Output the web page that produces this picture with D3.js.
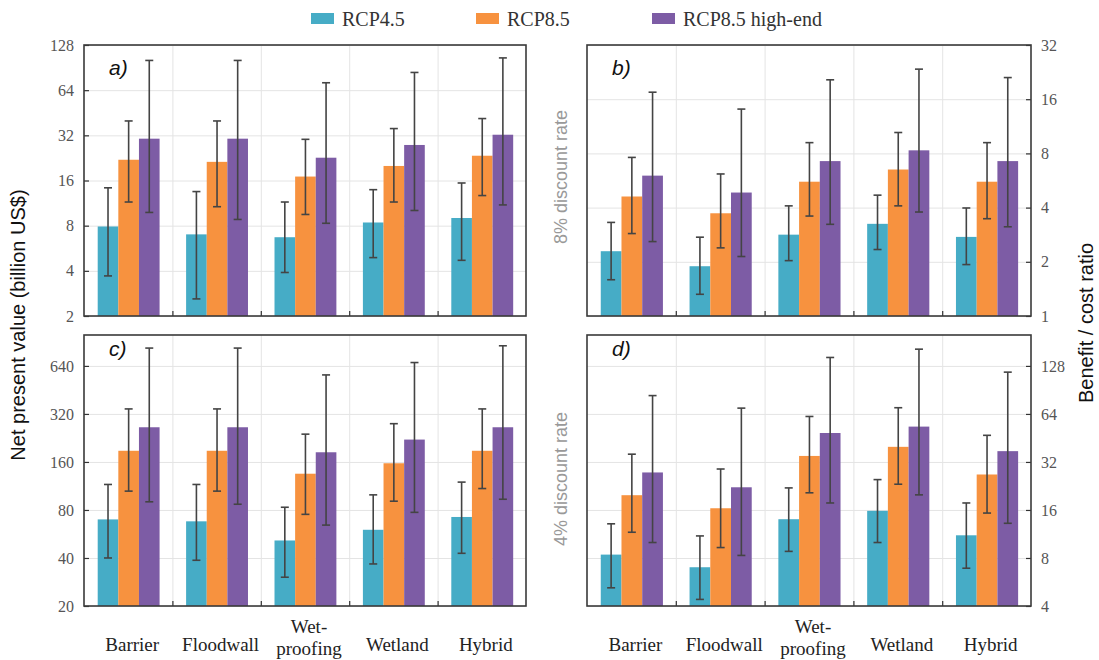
<!DOCTYPE html>
<html>
<head>
<meta charset="utf-8">
<script src="https://cdn.jsdelivr.net/npm/d3@7"></script>
<style>
body { margin: 0; background: #fff; }
svg { display: block; }
.tick text { font-family: "Liberation Serif", "Times New Roman", serif; font-size: 16px; fill: #555; }
.grid line { stroke: #e4e4e4; stroke-width: 1; }
.axis-label { font-family: "Liberation Sans", Arial, sans-serif; }
.serif { font-family: "Liberation Serif", "Times New Roman", serif; }
</style>
</head>
<body>
<svg width="1099" height="660"></svg>
<script>
const categories = ['Barrier', 'Floodwall', 'Wet-proofing', 'Wetland', 'Hybrid'];
const scenarios = ['RCP4.5', 'RCP8.5', 'RCP8.5 high-end'];
const colors = ['#46acc6', '#f7923f', '#7d5ca5'];

// a) net present value, 8% discount rate  (rows = scenarios)
const npv8Val = [[7.9, 7.0, 6.7, 8.4, 9.0], [22.0, 21.3, 17.0, 20.0, 23.4], [30.4, 30.4, 22.7, 27.6, 32.3]];
const npv8Lo  = [[3.7, 2.6, 3.9, 4.9, 4.7], [11.5, 10.7, 9.5, 11.5, 12.7], [9.8, 8.8, 8.3, 10.1, 11.0]];
const npv8Hi  = [[14.3, 13.5, 11.5, 13.9, 15.4], [39.9, 39.9, 30.1, 35.5, 41.4], [101, 101, 71.7, 84.0, 105]];

// b) benefit / cost ratio, 8% discount rate
const bcr8Val = [[2.29, 1.89, 2.83, 3.25, 2.75], [4.61, 3.72, 5.57, 6.51, 5.57], [6.02, 4.85, 7.25, 8.32, 7.25]];
const bcr8Lo  = [[1.59, 1.32, 2.03, 2.34, 1.93], [2.87, 2.39, 3.59, 4.09, 3.47], [2.59, 2.14, 3.23, 3.78, 3.13]];
const bcr8Hi  = [[3.31, 2.74, 4.09, 4.69, 3.98], [7.6, 6.15, 9.18, 10.45, 9.18], [17.5, 14.1, 20.5, 23.5, 21.1]];

// c) net present value, 4% discount rate
const npv4Val = [[69.8, 67.9, 51.5, 60.1, 72.3], [188, 188, 135, 157, 188], [264, 264, 184, 221, 264]];
const npv4Lo  = [[40, 38.7, 30.3, 36.7, 42.8], [105, 105, 75.1, 90.8, 109], [90, 86.9, 64.3, 77.3, 93.4]];
const npv4Hi  = [[115.6, 115.6, 83.2, 99.5, 119.6], [344, 344, 239, 278, 344], [828, 828, 562, 672, 856]];

// d) benefit / cost ratio, 4% discount rate
const bcr4Val = [[8.4, 7.0, 14.0, 15.8, 11.1], [19.8, 16.4, 34.9, 39.8, 26.7], [27.5, 22.2, 48.6, 53.3, 37.4]];
const bcr4Lo  = [[5.2, 4.4, 8.8, 10.0, 6.9], [11.6, 9.3, 20.5, 23.2, 15.3], [10.0, 8.3, 17.7, 19.9, 13.2]];
const bcr4Hi  = [[13.1, 11.0, 22.0, 24.8, 17.7], [35.8, 28.9, 61.7, 70.0, 47.0], [83.4, 69.6, 144.6, 163, 117]];

const ticksA = [2, 4, 8, 16, 32, 64, 128];
const ticksB = [1, 2, 4, 8, 16, 32];
const ticksC = [20, 40, 80, 160, 320, 640];
const ticksD = [4, 8, 16, 32, 64, 128];

const svg = d3.select('svg');

const panels = [
    { name: 'a)', val: npv8Val, lo: npv8Lo, hi: npv8Hi, domain: [2, 128], ticks: ticksA, side: 'left',
      x0: 84, x1: 526, y0: 45, y1: 316, labY: 75, cats: false },
    { name: 'b)', val: bcr8Val, lo: bcr8Lo, hi: bcr8Hi, domain: [1, 32], ticks: ticksB, side: 'right',
      x0: 587, x1: 1031, y0: 45, y1: 316, labY: 75, cats: false },
    { name: 'c)', val: npv4Val, lo: npv4Lo, hi: npv4Hi, domain: [20, 1000], ticks: ticksC, side: 'left',
      x0: 84, x1: 526, y0: 335, y1: 606, labY: 356, cats: true },
    { name: 'd)', val: bcr4Val, lo: bcr4Lo, hi: bcr4Hi, domain: [4, 200], ticks: ticksD, side: 'right',
      x0: 587, x1: 1031, y0: 335, y1: 606, labY: 356, cats: true }
];

const drawPanel = p => {
    const w = p.x1 - p.x0;
    const h = p.y1 - p.y0;
    const g = svg.append('g').attr('transform', `translate(${p.x0},${p.y0})`);

    const yScale = d3.scaleLog().base(2).domain(p.domain).range([h, 0]);
    const xScale = d3.scaleBand().domain(categories).range([0, w]);
    const gw = xScale.bandwidth();
    const xInner = d3.scaleBand().domain(d3.range(scenarios.length))
        .range([gw * 0.155, gw * 0.855]);

    // grid
    g.append('g').attr('class', 'grid')
        .call(d3.axisLeft(yScale).tickValues(p.ticks).tickSize(-w).tickFormat(''))
        .call(s => s.select('.domain').remove());
    const xLin = d3.scaleLinear().domain([0, categories.length]).range([0, w]);
    g.append('g').attr('class', 'grid')
        .call(d3.axisBottom(xLin).tickValues([1, 2, 3, 4]).tickSize(h).tickFormat(''))
        .call(s => s.select('.domain').remove());

    // bars
    p.val.forEach((series, si) => {
        g.selectAll(null).data(series).enter().append('rect')
            .attr('x', (d, i) => xScale(categories[i]) + xInner(si))
            .attr('width', xInner.bandwidth())
            .attr('y', d => yScale(d))
            .attr('height', d => h - yScale(d))
            .attr('fill', colors[si]);
    });

    // error bars
    p.val.forEach((series, si) => {
        const cx = i => xScale(categories[i]) + xInner(si) + xInner.bandwidth() / 2;
        const eg = g.append('g').attr('stroke', '#444').attr('stroke-width', 1.6);
        eg.selectAll(null).data(series).enter().append('line')
            .attr('x1', (d, i) => cx(i)).attr('x2', (d, i) => cx(i))
            .attr('y1', (d, i) => yScale(p.lo[si][i]))
            .attr('y2', (d, i) => yScale(p.hi[si][i]));
        [p.lo[si], p.hi[si]].forEach(arr => {
            eg.selectAll(null).data(arr).enter().append('line')
                .attr('x1', (d, i) => cx(i) - 4).attr('x2', (d, i) => cx(i) + 4)
                .attr('y1', d => yScale(d)).attr('y2', d => yScale(d));
        });
    });

    // y axis with inward ticks
    const yAxis = (p.side === 'left' ? d3.axisLeft(yScale) : d3.axisRight(yScale))
        .tickValues(p.ticks).tickFormat(d3.format('d'))
        .tickSizeInner(-5).tickSizeOuter(0).tickPadding(10);
    const yAxisG = g.append('g')
        .attr('transform', p.side === 'left' ? null : `translate(${w},0)`)
        .call(yAxis);
    yAxisG.select('.domain').remove();
    yAxisG.selectAll('.tick line').attr('stroke', '#333').attr('stroke-width', 1.2);

    // bottom ticks at group boundaries
    const bAxisG = g.append('g').attr('transform', `translate(0,${h})`)
        .call(d3.axisBottom(xLin).tickValues([1, 2, 3, 4]).tickSize(-5).tickFormat(''));
    bAxisG.select('.domain').remove();
    bAxisG.selectAll('.tick line').attr('stroke', '#333').attr('stroke-width', 1.2);

    // frame
    g.append('rect').attr('width', w).attr('height', h)
        .attr('fill', 'none').attr('stroke', '#3a3a3a').attr('stroke-width', 1.6);

    // panel label
    svg.append('text').attr('class', 'axis-label')
        .attr('x', p.x0 + 25).attr('y', p.labY)
        .attr('font-size', 21).attr('font-style', 'italic').attr('fill', '#111')
        .text(p.name);

    // category labels
    if (p.cats) {
        categories.forEach(c => {
            const t = svg.append('text').attr('class', 'serif')
                .attr('text-anchor', 'middle').attr('font-size', 19).attr('fill', '#222');
            const cx = p.x0 + xScale(c) + gw / 2 + 4;
            if (c.includes('-')) {
                const parts = c.split('-');
                t.append('tspan').attr('x', cx).attr('y', 633).text(parts[0] + '-');
                t.append('tspan').attr('x', cx).attr('y', 655).text(parts[1]);
            } else {
                t.attr('x', cx).attr('y', 651).text(c);
            }
        });
    }
};

panels.forEach(drawPanel);

// axis titles
svg.append('text').attr('class', 'axis-label')
    .attr('transform', 'translate(25,325) rotate(-90)')
    .attr('text-anchor', 'middle').attr('font-size', 20).attr('fill', '#111')
    .text('Net present value (billion US$)');
svg.append('text').attr('class', 'axis-label')
    .attr('transform', 'translate(1093,323) rotate(-90)')
    .attr('text-anchor', 'middle').attr('font-size', 20).attr('fill', '#111')
    .text('Benefit / cost ratio');
svg.append('text').attr('class', 'axis-label')
    .attr('transform', 'translate(567,177) rotate(-90)')
    .attr('text-anchor', 'middle').attr('font-size', 18).attr('fill', '#999')
    .text('8% discount rate');
svg.append('text').attr('class', 'axis-label')
    .attr('transform', 'translate(567,479) rotate(-90)')
    .attr('text-anchor', 'middle').attr('font-size', 18).attr('fill', '#999')
    .text('4% discount rate');

// legend
const legendX = [311, 476, 652];
const legend = svg.append('g');
scenarios.forEach((s, i) => {
    legend.append('rect').attr('x', legendX[i]).attr('y', 13)
        .attr('width', 23).attr('height', 11).attr('fill', colors[i]);
    legend.append('text').attr('class', 'serif')
        .attr('x', legendX[i] + 31).attr('y', 26)
        .attr('font-size', 20).attr('fill', '#333').text(s);
});
</script>
</body>
</html>
